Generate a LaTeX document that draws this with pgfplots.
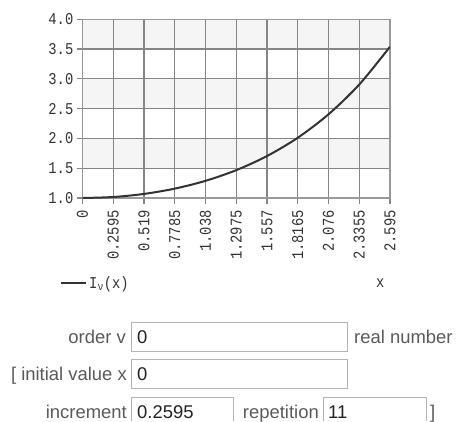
\documentclass[border=0pt]{standalone}
\usepackage{pgfplots}
\pgfplotsset{compat=1.18}
\usepackage{fontspec}
\setmainfont{Liberation Sans}
\newfontfamily\tickfont[FakeStretch=0.84]{Liberation Mono}
\definecolor{gridc}{HTML}{858585}
\definecolor{axisc}{HTML}{999999}
\definecolor{bandc}{HTML}{F5F5F5}
\definecolor{labelc}{HTML}{333333}
\definecolor{curvec}{HTML}{333333}
\definecolor{formc}{HTML}{5A5A5A}
\definecolor{valc}{HTML}{222222}
\definecolor{boxc}{HTML}{B4B4B4}
\newcommand{\tfont}{\tickfont\fontsize{16.5}{17}\selectfont}
\newcommand{\ffont}{\fontsize{18.5}{20}\selectfont}
\begin{document}
\begin{tikzpicture}[x=1bp,y=1bp]
\begin{axis}[
  at={(82.5bp,-198bp)}, anchor=south west,
  scale only axis, width=307.5bp, height=178.7bp,
  set layers,
  xmin=0, xmax=2.595, ymin=1, ymax=4,
  xtick={0,0.2595,0.519,0.7785,1.038,1.2975,1.557,1.8165,2.076,2.3355,2.595},
  xticklabels={0,0.2595,0.519,0.7785,1.038,1.2975,1.557,1.8165,2.076,2.3355,2.595},
  ytick={1,1.5,2,2.5,3,3.5,4},
  yticklabels={1.0,1.5,2.0,2.5,3.0,3.5,4.0},
  xtick pos=bottom, ytick pos=left,
  grid=major,
  major grid style={gridc, line width=1.2bp},
  axis line style={axisc, line width=1.2bp},
  tick align=outside, major tick length=6bp,
  tick style={gridc, line width=1.2bp},
  x tick label style={rotate=90, anchor=east, font=\tfont, text=labelc, inner sep=6bp},
  y tick label style={font=\tfont, text=labelc, inner sep=3bp},
  xlabel={x},
  xlabel style={at={(axis description cs:0.968,-0.476)}, anchor=center, font=\tfont, text=labelc},
  legend style={at={(axis description cs:-0.073,-0.476)}, anchor=west, draw=none, fill=none,
    inner sep=0pt, font=\tfont, text=labelc},
  legend image code/.code={\draw[#1] (0bp,0bp) -- (25bp,0bp);},
]
\addplot[forget plot, draw=none, fill=bandc, on layer=axis background] coordinates {(0,1.5) (2.595,1.5) (2.595,2.0) (0,2.0)} -- cycle;
\addplot[forget plot, draw=none, fill=bandc, on layer=axis background] coordinates {(0,2.5) (2.595,2.5) (2.595,3.0) (0,3.0)} -- cycle;
\addplot[forget plot, draw=none, fill=bandc, on layer=axis background] coordinates {(0,3.5) (2.595,3.5) (2.595,4.0) (0,4.0)} -- cycle;
\addplot[curvec, line width=2bp, smooth] coordinates {
(0,1.0000) (0.2595,1.0169) (0.519,1.0685) (0.7785,1.1574) (1.038,1.2881)
(1.2975,1.4673) (1.557,1.7043) (1.8165,2.0115) (2.076,2.4049) (2.3355,2.9053) (2.595,3.5395)
};
\addlegendentry{I\textsubscript{ν}(x)}
\end{axis}
% form
\begin{scope}[font=\ffont]
\draw[boxc, fill=white, line width=1bp] (131,-322) rectangle (347,-351);
\draw[boxc, fill=white, line width=1bp] (131,-359) rectangle (347,-388);
\draw[boxc, line width=1bp] (131,-421) -- (131,-397) -- (233,-397) -- (233,-421);
\draw[boxc, line width=1bp] (323,-421) -- (323,-397) -- (426,-397) -- (426,-421);
\node[anchor=base east, inner sep=0pt, text=formc] at (126,-343) {order v};
\node[anchor=base west, inner sep=0pt, text=formc] at (354,-343) {real number};
\node[anchor=base east, inner sep=0pt, text=formc] at (127,-380.5) {[ initial value x};
\node[anchor=base east, inner sep=0pt, text=formc] at (127,-418) {increment};
\node[anchor=base east, inner sep=0pt, text=formc] at (319,-418) {repetition};
\node[anchor=base west, inner sep=0pt, text=formc] at (430,-418) {]};
\node[anchor=base west, inner sep=0pt, text=valc] at (137,-343) {0};
\node[anchor=base west, inner sep=0pt, text=valc] at (137,-380.5) {0};
\node[anchor=base west, inner sep=0pt, text=valc] at (137,-418) {0.2595};
\node[anchor=base west, inner sep=0pt, text=valc] at (328,-418) {11};
\end{scope}
\path (0,0) rectangle (457,-421);
\end{tikzpicture}
\end{document}
